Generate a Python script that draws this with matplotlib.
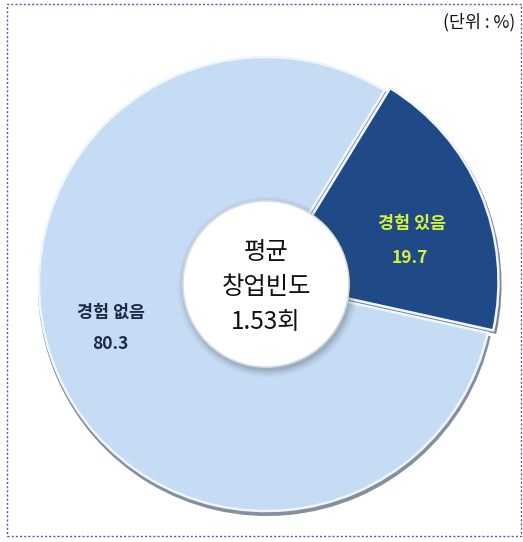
import matplotlib
matplotlib.use("Agg")
import matplotlib.pyplot as plt
from matplotlib.patches import Circle, Rectangle

plt.rcParams['font.family'] = ['Noto Sans CJK KR', 'DejaVu Sans']

categories = ["경험 있음", "경험 없음"]
values = [19.7, 80.3]
colors = ["#1f4a87", "#c6dcf4"]
center_lines = ["평균", "창업빈도", "1.53회"]
unit_label = "(단위 : %)"

W, H = 523, 542
fig = plt.figure(figsize=(W / 100, H / 100), dpi=100)
ax = fig.add_axes([0, 0, 1, 1])

cx, cy, R = 266, H - 284, 227

# shadow pie
ax.pie(values, startangle=58.5, counterclock=False, center=(cx + 1, cy - 3),
       radius=R + 2, explode=[6, 0], colors=["#7a8490", "#86909c"],
       wedgeprops=dict(linewidth=0), frame=True)
# main pie
wedges, _ = ax.pie(values, startangle=58.5, counterclock=False, center=(cx, cy),
                   radius=R, explode=[6, 0], colors=colors,
                   wedgeprops=dict(edgecolor="#eef5fd", linewidth=1.8), frame=True)
ax.set_xlim(0, W)
ax.set_ylim(0, H)
ax.set_aspect("equal")
ax.axis("off")

# center circle with soft shadow
for i, a in enumerate([0.05, 0.07, 0.09, 0.12]):
    ax.add_patch(Circle((cx + 2, cy - 3), 90 - i * 2, color="#404a58", alpha=a, lw=0, zorder=5))
ax.add_patch(Circle((cx, cy), 83, facecolor="white", edgecolor="#d8dde4", lw=1.2, zorder=6))

for i, t in enumerate(center_lines):
    ax.text(cx, H - (252 + 35 * i), t, ha="center", va="center", fontsize=17.5,
            fontweight="medium", color="#111111", zorder=7)

# slice labels
ax.text(412, H - 224, categories[0], ha="center", va="center", fontsize=12.5,
        fontweight="bold", color="#d6f23a", zorder=7)
ax.text(410, H - 258, f"{values[0]}", ha="center", va="center", fontsize=12.5,
        fontweight="bold", color="#d6f23a", zorder=7)
ax.text(111, H - 313, categories[1], ha="center", va="center", fontsize=12.5,
        fontweight="bold", color="#1e2a44", zorder=7)
ax.text(110, H - 344, f"{values[1]}", ha="center", va="center", fontsize=12.5,
        fontweight="bold", color="#1e2a44", zorder=7)

ax.text(515, H - 22, unit_label, ha="right", va="center", fontsize=12.5, color="#111111")

# dotted frame
ax.add_patch(Rectangle((6.5, H - 536), 514, 532, fill=False, edgecolor="#5a5aa6",
                       lw=1.0, linestyle=(0, (1.5, 1.5)), zorder=8))

fig.savefig("out.png", dpi=100)
